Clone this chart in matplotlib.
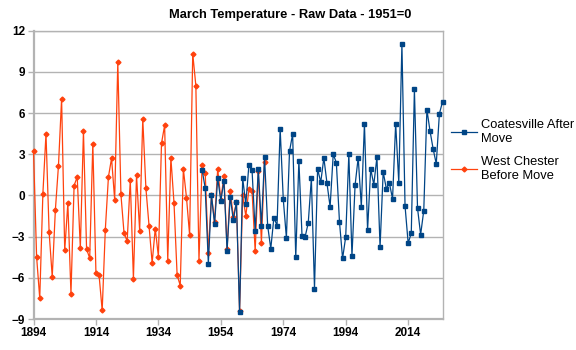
import matplotlib
matplotlib.use("Agg")
import matplotlib.pyplot as plt

plt.rcParams['font.family'] = ['Liberation Sans', 'DejaVu Sans']

# West Chester (before move) 1894-1968
wc_years = list(range(1894, 1969))
wc_vals = [3.24, -4.49, -7.5, 0.11, 4.5, -2.67, -5.93, -1.07, 2.18, 7.05,
           -4.01, -0.56, -7.16, 0.72, 1.35, -3.84, 4.68, -3.91, -4.57, 3.78,
           -5.66, -5.80, -8.38, -2.5, 1.35, 2.71, -0.32, 9.72, 0.07, -2.75,
           -3.33, 1.11, -6.07, 1.47, -2.58, 5.57, 0.53, -2.19, -4.91, -2.41,
           -4.45, 3.80, 5.11, -4.74, 2.74, -0.54, -5.80, -6.56, 1.93, -0.15,
           -2.89, 10.33, 8.0, -4.74, 2.23, 1.62, -4.16, 0.0, -1.9, 1.93,
           -0.3, 1.42, -3.9, 0.36, -1.54, -0.5, -8.4, 0.0, -1.49, 0.46,
           0.33, -4.06, 1.8, -3.43, 2.47]

# Coatesville (after move) 1948-2025
co_years = list(range(1948, 2026))
co_vals = [1.86, 0.53, -4.96, 0.0, -2.07, 1.26, -0.39, 1.08, -4.03, -0.08,
           -1.8, -0.49, -8.5, 1.26, -0.64, 2.25, 1.84, -2.6, 1.93, -2.21,
           2.81, -2.21, -3.87, -1.61, -2.19, 4.87, -0.27, -3.09, 3.22, 4.48,
           -4.52, 2.54, -2.92, -3.01, -2.0, 1.26, -6.78, 1.93, 0.96, 2.74,
           0.89, -0.83, 3.0, 2.39, -1.92, -4.59, -3.01, 3.0, -4.42, 0.75,
           2.76, -0.81, 5.23, -2.53, 1.93, 0.79, 2.79, -3.76, 1.72, 0.5,
           0.89, -0.25, 5.23, 0.94, 11.03, -0.76, -3.47, -2.75, 7.73, -0.93,
           -2.85, -1.1, 6.25, 4.7, 3.39, 2.3, 5.94, 6.83]

x_ticks = list(range(1894, 2025, 20))
y_ticks = list(range(-9, 13, 3))

fig = plt.figure(figsize=(5.76, 3.5), dpi=100)
ax = fig.add_axes([33.5/576, 1-319/350, (442.5-33.5)/576, (319-30.7)/350])

grey = '#b3b3b3'
ax.plot(wc_years, wc_vals, color='#ff420e', lw=0.9, marker='D', ms=2.5,
        label='West Chester\nBefore Move', zorder=3, clip_on=False)
ax.plot(co_years, co_vals, color='#004586', lw=0.9, marker='s', ms=3.4,
        label='Coatesville After\nMove', zorder=4, clip_on=False)

ax.set_xlim(1894, 2025)
ax.set_ylim(-9, 12)
ax.set_xticks(x_ticks)
ax.set_yticks(y_ticks)
ax.tick_params(axis='both', labelsize=8.5, color=grey, length=4, width=1, pad=2)
for lab in ax.get_xticklabels() + ax.get_yticklabels():
    lab.set_fontweight('bold')
ax.yaxis.grid(True, color=grey, lw=1)
ax.set_axisbelow(True)
for s in ax.spines.values():
    s.set_color(grey)
    s.set_linewidth(1)
ax.spines['left'].set_linewidth(1.6)
ax.spines['bottom'].set_linewidth(1.6)

fig.text(290.5/576, 1-15/350, 'March Temperature - Raw Data - 1951=0',
         ha='center', va='center', fontsize=9.3, fontweight='bold')

h, l = ax.get_legend_handles_labels()
fig.legend(h[::-1], l[::-1], loc='upper left', bbox_to_anchor=(451/576, 1-119/350),
           frameon=False, fontsize=9.3, handlelength=2.0, handletextpad=0.3,
           labelspacing=0.85, borderaxespad=0, borderpad=0)

fig.savefig('out.png', dpi=100)
